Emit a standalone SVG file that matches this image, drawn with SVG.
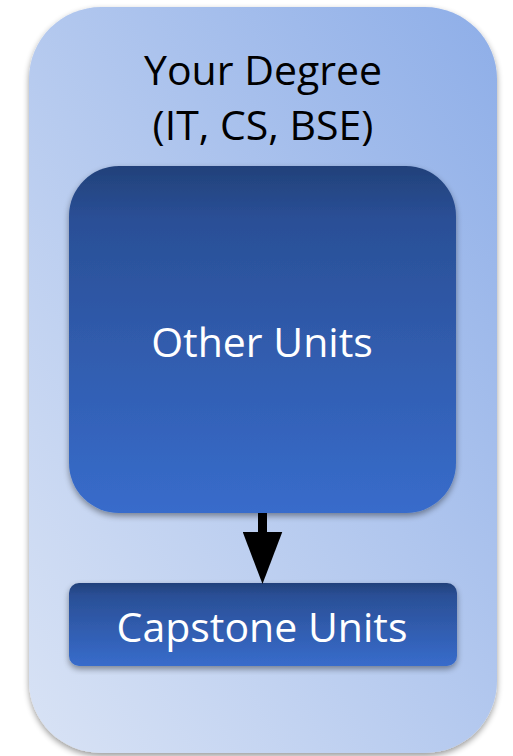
<svg xmlns="http://www.w3.org/2000/svg" width="513" height="756" viewBox="0 0 513 756">
<defs>
<linearGradient id="outerGrad" x1="0" y1="1" x2="1" y2="0">
<stop offset="0" stop-color="#d9e3f5"/>
<stop offset="1" stop-color="#8eaee8"/>
</linearGradient>
<linearGradient id="innerGrad" x1="0" y1="0" x2="0" y2="1">
<stop offset="0" stop-color="#22417a"/>
<stop offset="0.15" stop-color="#2a4f96"/>
<stop offset="1" stop-color="#386ccb"/>
</linearGradient>
<filter id="shadow" x="-10%" y="-10%" width="120%" height="120%">
<feGaussianBlur in="SourceAlpha" stdDeviation="3"/>
<feOffset dx="0" dy="3" result="b"/>
<feComponentTransfer><feFuncA type="linear" slope="0.4"/></feComponentTransfer>
<feMerge><feMergeNode/><feMergeNode in="SourceGraphic"/></feMerge>
</filter>
<marker id="arrowHead" markerUnits="userSpaceOnUse" markerWidth="52" markerHeight="40" refX="0" refY="19" orient="auto" viewBox="0 0 50 38">
<path d="M0,0 L50,19 L0,38 Z" fill="#000"/>
</marker>
</defs>
<style>
.label{font-family:"Open Sans","Liberation Sans",sans-serif;text-anchor:middle;}
.dark{fill:#000;font-size:41px;}
.light{fill:#fff;font-size:41px;}
</style>
<g id="degree">
<rect x="29" y="7" width="468" height="746" rx="72" ry="72" fill="url(#outerGrad)" filter="url(#shadow)"/>
<text class="label dark" x="263" y="85">Your Degree</text>
<text class="label dark" x="263" y="140">(IT, CS, BSE)</text>
</g>
<g id="other-units">
<rect x="69" y="166" width="387" height="347" rx="50" ry="50" fill="url(#innerGrad)" filter="url(#shadow)"/>
<text class="label light" x="262" y="357">Other Units</text>
</g>
<g id="capstone-units">
<rect x="69" y="583" width="388" height="83" rx="10" ry="10" fill="url(#innerGrad)" filter="url(#shadow)"/>
<text class="label light" x="262" y="642">Capstone Units</text>
</g>
<g id="connectors">
<line x1="262.5" y1="513" x2="262.5" y2="532" stroke="#000" stroke-width="9" marker-end="url(#arrowHead)"/>
</g>
</svg>
